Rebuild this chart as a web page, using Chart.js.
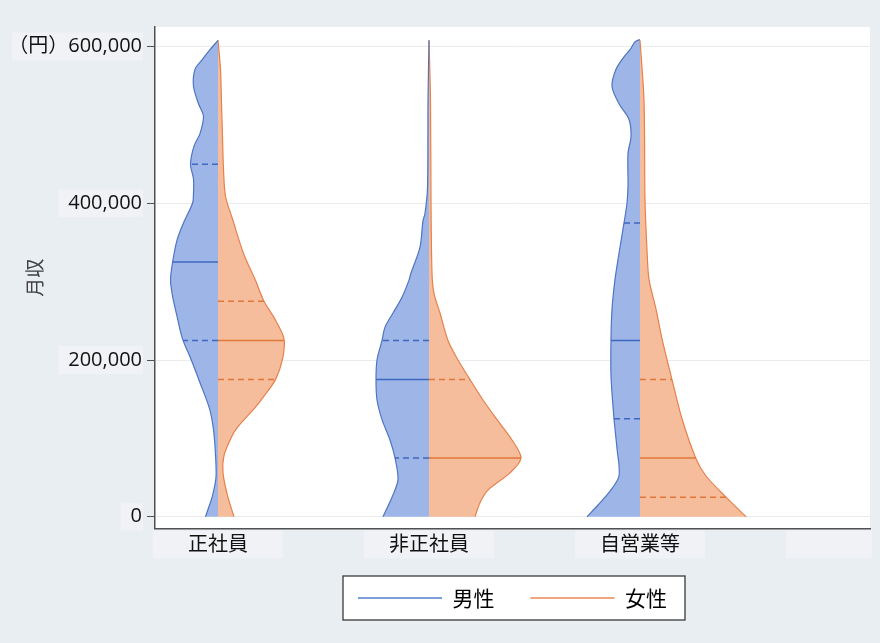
<!DOCTYPE html>
<html lang="ja">
<head>
<meta charset="utf-8">
<title>雇用形態別・男女別の月収分布</title>
<script src="https://cdn.jsdelivr.net/npm/chart.js@4.4.1/dist/chart.umd.min.js"></script>
<style>
  html, body { margin: 0; padding: 0; background: #e8eef2; }
  #wrap { width: 880px; height: 643px; }
</style>
</head>
<body>
<div id="wrap"><canvas id="c" width="880" height="643"></canvas></div>
<script>
// ---- data -------------------------------------------------------------
const categories = ['正社員', '非正社員', '自営業等'];
const seriesNames = ['男性', '女性'];
const yTicks = [0, 200000, 400000, 600000];
const yUnitLabel = '（円）';
const yTitle = '月収';

// Monthly income levels (yen) and kernel-density half widths at each level.
const regularMaleIncome  = [0, 13000, 27000, 50000, 79000, 111000, 138000, 171000, 201000, 227000, 256000, 282000, 302000, 324000, 353000, 375000, 400000, 413000, 431000, 450000, 473000, 489000, 511000, 527000, 549000, 571000, 583000, 596000, 608000];
const regularMaleDensity = [12.5, 9, 5.5, 2, 2.5, 4.5, 8.5, 18, 27, 35.5, 41, 45.5, 47.5, 45.5, 41, 34.5, 25.5, 24.5, 24.5, 27.5, 24, 18, 14.5, 19.5, 24.5, 23, 16, 8, 0];
const regularFemaleIncome  = [0, 27000, 56000, 78000, 103000, 115000, 140000, 154000, 175000, 201000, 227000, 252000, 275000, 303000, 336000, 380000, 409000, 443000, 485000, 527000, 571000, 608000];
const regularFemaleDensity = [16, 9.5, 5, 6, 14, 20, 37.5, 46, 57.5, 64.5, 66, 57, 46, 37, 25.5, 14.5, 7.5, 5.5, 4.5, 3.5, 2.5, 0];

const nonRegularMaleIncome  = [0, 25000, 47000, 75000, 98000, 124000, 149000, 175000, 200000, 225000, 242000, 260000, 280000, 302000, 311000, 344000, 378000, 387000, 420000, 531000, 608000];
const nonRegularMaleDensity = [46, 37, 31, 34, 39, 47, 52, 53, 52, 47, 44, 36, 27, 20, 18, 9, 6, 4, 1.5, 1, 0];
const nonRegularFemaleIncome  = [0, 18000, 34000, 56000, 75000, 98000, 124000, 149000, 175000, 200000, 225000, 260000, 285000, 311000, 404000, 531000, 608000];
const nonRegularFemaleDensity = [46, 51, 59, 81, 92, 83, 68, 54, 41, 29, 19, 11, 5, 3, 2, 1.5, 0];

const selfEmployedMaleIncome  = [0, 15000, 31000, 52000, 87000, 125000, 180000, 227000, 265000, 303000, 336000, 375000, 400000, 422000, 464000, 485000, 507000, 527000, 549000, 571000, 587000, 596000, 606000, 609000];
const selfEmployedMaleDensity = [53, 42, 31, 21, 23, 26, 29, 29, 28, 25, 21, 16, 13, 12, 12, 9, 11, 21, 28, 24, 16, 10, 5, 0];
const selfEmployedFemaleIncome  = [0, 25000, 52000, 74000, 125000, 175000, 227000, 265000, 303000, 340000, 404000, 531000, 608000];
const selfEmployedFemaleDensity = [106, 86, 66, 56, 42, 32, 22, 16, 9, 7, 5, 4, 0];

// Quartiles [25%, median, 75%]; null where no line is drawn.
const regularMaleQuartiles       = [225000, 325000, 450000];
const regularFemaleQuartiles     = [175000, 225000, 275000];
const nonRegularMaleQuartiles    = [75000, 175000, 225000];
const nonRegularFemaleQuartiles  = [null, 75000, 175000];
const selfEmployedMaleQuartiles  = [125000, 225000, 375000];
const selfEmployedFemaleQuartiles = [25000, 75000, 175000];

// ---- styling ----------------------------------------------------------
const DENSITY_SCALE = 1 / 211;          // density units -> category widths
const X_MIN = 0.7014, X_MAX = 4.0900;
const Y_MIN = -15000, Y_MAX = 625000;

const palette = [
  { fill: '#9db6e7', edge: '#4f74c2', quart: '#3f67bf', legend: '#7f9dd6' },   // 男性
  { fill: '#f6bd9d', edge: '#e6814a', quart: '#e2773b', legend: '#efa57e' }    // 女性
];
const CJK = "'Noto Sans CJK JP', 'Noto Sans', sans-serif";
const LATIN = "'Open Sans', 'Noto Sans CJK JP', sans-serif";

const halves = [
  { cat: 0, sex: 0, income: regularMaleIncome,      density: regularMaleDensity,      quartiles: regularMaleQuartiles },
  { cat: 0, sex: 1, income: regularFemaleIncome,    density: regularFemaleDensity,    quartiles: regularFemaleQuartiles },
  { cat: 1, sex: 0, income: nonRegularMaleIncome,   density: nonRegularMaleDensity,   quartiles: nonRegularMaleQuartiles },
  { cat: 1, sex: 1, income: nonRegularFemaleIncome, density: nonRegularFemaleDensity, quartiles: nonRegularFemaleQuartiles },
  { cat: 2, sex: 0, income: selfEmployedMaleIncome,   density: selfEmployedMaleDensity,   quartiles: selfEmployedMaleQuartiles },
  { cat: 2, sex: 1, income: selfEmployedFemaleIncome, density: selfEmployedFemaleDensity, quartiles: selfEmployedFemaleQuartiles }
];

function densityAt(income, density, y) {
  for (let i = 1; i < income.length; i++) {
    if (y <= income[i]) {
      const t = (y - income[i - 1]) / (income[i] - income[i - 1]);
      return density[i - 1] + t * (density[i] - density[i - 1]);
    }
  }
  return density[density.length - 1];
}

const TENSION = 0.3;
const datasets = [];
halves.forEach(h => {
  const centre = h.cat + 1;
  const side = h.sex === 0 ? -1 : 1;
  const col = palette[h.sex];
  const outline = h.income.map((y, i) => ({ x: centre + side * h.density[i] * DENSITY_SCALE, y }));

  // filled half violin (closed back along the centre line)
  datasets.push({
    data: [{ x: centre, y: h.income[0] }, outline[0], ...outline],
    fill: 'shape', backgroundColor: col.fill,
    borderColor: 'rgba(0,0,0,0)', borderWidth: 0,
    pointRadius: 0, tension: TENSION, order: 3
  });
  // density outline
  datasets.push({
    data: outline, fill: false, borderColor: col.edge, borderWidth: 1.2,
    pointRadius: 0, tension: TENSION, order: 2
  });
  // quartile lines: dashed quartiles, solid median
  h.quartiles.forEach((q, qi) => {
    if (q === null) return;
    const w = densityAt(h.income, h.density, q);
    datasets.push({
      data: [{ x: centre, y: q }, { x: centre + side * w * DENSITY_SCALE, y: q }],
      fill: false, borderColor: col.quart, borderWidth: 1.5,
      borderDash: qi === 1 ? [] : [6, 4],
      pointRadius: 0, tension: 0, order: 1
    });
  });
});

// ---- decorations: canvas background, plot area, label panels, legend frame
const LEGEND_LIFT = 9;
const frame = {
  id: 'frame',
  afterLayout(chart) {
    // sit the legend a little closer to the axis labels
    if (chart.legend) {
      chart.legend.top -= LEGEND_LIFT;
      chart.legend.bottom -= LEGEND_LIFT;
    }
  },
  beforeDraw(chart) {
    const { ctx, chartArea: a } = chart;
    ctx.save();
    ctx.fillStyle = '#e8eef2';
    ctx.fillRect(0, 0, chart.width, chart.height);
    ctx.fillStyle = '#ffffff';
    ctx.fillRect(a.left, a.top, a.right - a.left, a.bottom - a.top);

    // light panels behind tick labels
    ctx.fillStyle = '#f0f2f5';
    const ys = chart.scales.y;
    ctx.font = '20px ' + LATIN;
    ys.ticks.forEach(t => {
      const py = ys.getPixelForValue(t.value);
      const w = ctx.measureText(t.label).width;
      const right = a.left - 12;
      const left = Math.max(12, right - w - 11);
      ctx.fillRect(left, py - 14, right - left, 28);
    });
    const xs = chart.scales.x;
    [1, 2, 3, 4].forEach(v => {
      const px = xs.getPixelForValue(v);
      const l = px - 65, r = Math.min(px + 65, a.right + 2);
      if (r > l) ctx.fillRect(l, a.bottom + 2, r - l, 28);
    });

    // legend frame
    const hb = chart.legend && chart.legend.legendHitBoxes;
    if (hb && hb.length) {
      const l = Math.min(...hb.map(b => b.left)) - 15;
      const r = Math.max(...hb.map(b => b.left + b.width)) + 18;
      const cy = hb[0].top + hb[0].height / 2;
      ctx.fillStyle = '#ffffff';
      ctx.fillRect(l, cy - 22, r - l, 44);
      ctx.strokeStyle = '#3a3a3a';
      ctx.lineWidth = 1.3;
      ctx.strokeRect(l, cy - 22, r - l, 44);
    }
    ctx.restore();
  }
};

new Chart(document.getElementById('c'), {
  type: 'line',
  data: { datasets },
  options: {
    responsive: false,
    devicePixelRatio: 1,
    animation: false,
    events: [],
    layout: { padding: { top: 27, right: 10, bottom: 15.5, left: 0 } },
    scales: {
      x: {
        type: 'linear', min: X_MIN, max: X_MAX,
        afterBuildTicks: s => { s.ticks = categories.map((_, i) => ({ value: i + 1 })); },
        afterFit: s => { s.height = 32; },
        grid: { display: false, drawTicks: false },
        border: { display: true, color: '#505050', width: 1.5 },
        ticks: {
          autoSkip: false, maxRotation: 0, padding: 3,
          color: '#111', font: { family: CJK, size: 20 },
          callback: v => categories[Math.round(v) - 1] ?? ''
        }
      },
      y: {
        type: 'linear', min: Y_MIN, max: Y_MAX,
        afterBuildTicks: s => { s.ticks = yTicks.map(v => ({ value: v })); },
        afterFit: s => { s.width = 155; },
        grid: { color: '#ebebeb', lineWidth: 1, tickColor: '#505050', tickLength: 8, drawOnChartArea: true },
        border: { display: true, color: '#505050', width: 1.5 },
        ticks: {
          padding: 5, color: '#111', font: { family: LATIN, size: 20 },
          callback: v => (v === yTicks[yTicks.length - 1] ? yUnitLabel : '') + v.toLocaleString('en-US')
        },
        title: {
          display: true, text: yTitle, color: '#404040',
          font: { family: CJK, size: 19 }, padding: { top: 23.6, bottom: 0 }
        }
      }
    },
    plugins: {
      tooltip: { enabled: false },
      legend: {
        position: 'bottom', fullSize: false, onClick: null,
        labels: {
          boxWidth: 84, boxHeight: 2, padding: 36,
          color: '#111', font: { family: CJK, size: 21 },
          generateLabels: () => seriesNames.map((name, i) => ({
            text: name, fillStyle: palette[i].legend, strokeStyle: palette[i].legend,
            lineWidth: 0, hidden: false, datasetIndex: i
          }))
        }
      }
    }
  },
  plugins: [frame]
});
</script>
</body>
</html>
